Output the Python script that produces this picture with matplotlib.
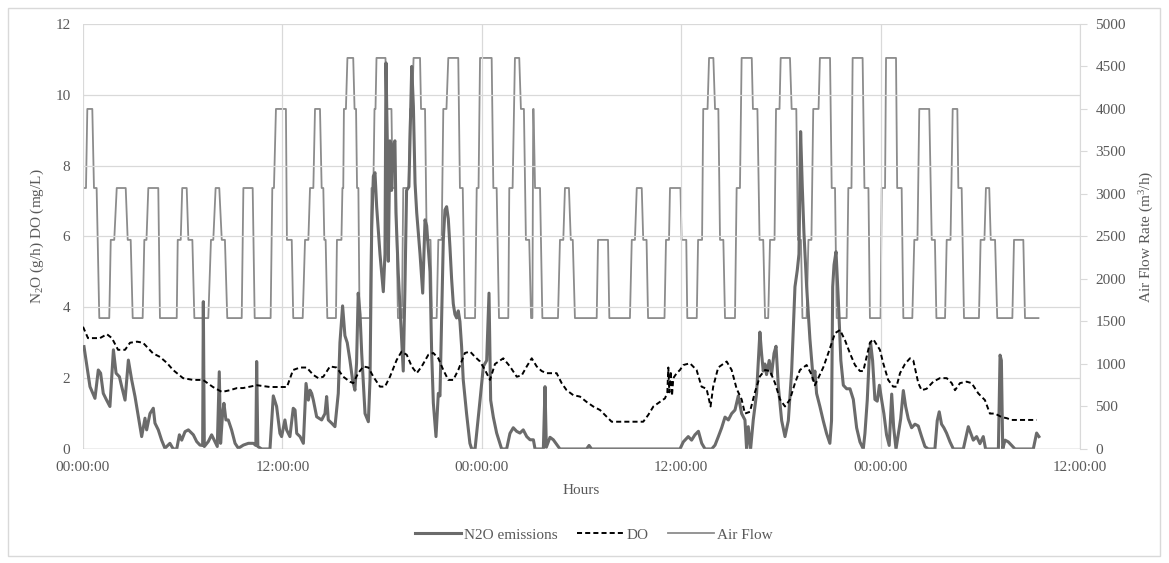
import matplotlib
matplotlib.use('Agg')
import matplotlib.pyplot as plt
from matplotlib.patches import Rectangle

plt.rcParams['font.family'] = 'Liberation Serif'
plt.rcParams['mathtext.fontset'] = 'custom'
plt.rcParams['mathtext.rm'] = 'Liberation Serif'
plt.rcParams['mathtext.it'] = 'Liberation Serif:italic'

# ---- data (hours since start) ----
# air flow plateaus: start hour, end hour, rate (m3/h)
af_start = [0.00, 0.26, 0.66, 0.98, 1.67, 2.03, 2.69, 2.99, 3.69, 3.93, 4.63, 5.70, 5.97, 6.34, 6.70,
            7.70, 7.98, 8.35, 8.68, 9.65, 10.33, 11.39, 11.61, 12.27, 12.65, 13.36, 13.66, 13.96, 14.36,
            14.52, 14.70, 15.28, 15.61, 15.70, 15.91, 16.34, 16.49, 16.64, 17.36, 17.54, 17.66, 18.29,
            18.63, 18.95, 19.27, 19.68, 19.89, 20.34, 20.68, 21.00, 21.38, 21.68, 21.98, 22.68, 22.98,
            23.69, 23.89, 24.69, 25.03, 25.65, 25.99, 26.35, 26.65, 26.96, 27.09, 27.20, 27.64, 28.70,
            29.00, 29.35, 29.60, 30.99, 31.67, 33.02, 33.32, 33.71, 34.00, 35.08, 35.32, 36.02, 36.36,
            37.01, 37.32, 37.67, 38.03, 38.33, 38.63, 39.33, 39.63, 40.31, 40.71, 41.04, 41.34, 41.70,
            41.98, 42.64, 43.02, 43.29, 43.65, 43.94, 44.34, 45.05, 45.35, 46.05, 46.31, 47.02, 47.35,
            48.06, 48.32, 48.99, 49.36, 50.02, 50.32, 51.07, 51.35, 51.97, 52.33, 52.67, 53.01, 54.01,
            54.33, 54.62, 55.01, 56.02, 56.68]
af_end = [0.18, 0.56, 0.82, 1.58, 1.88, 2.57, 2.87, 3.59, 3.82, 4.53, 5.64, 5.88, 6.24, 6.58, 7.54,
          7.84, 8.20, 8.54, 9.55, 10.21, 11.29, 11.49, 12.21, 12.56, 13.22, 13.56, 13.86, 14.26, 14.46,
          14.60, 15.22, 15.55, 15.66, 15.82, 16.26, 16.43, 16.57, 17.27, 17.47, 17.60, 18.20, 18.56,
          18.83, 19.19, 19.59, 19.80, 20.28, 20.58, 20.91, 21.28, 21.58, 21.87, 22.58, 22.85, 23.59,
          23.80, 24.59, 24.89, 25.59, 25.85, 26.25, 26.53, 26.85, 27.04, 27.11, 27.50, 28.58, 28.90,
          29.24, 29.47, 30.91, 31.59, 32.91, 33.21, 33.62, 33.91, 34.99, 35.26, 35.95, 36.30, 36.93,
          37.25, 37.58, 37.93, 38.23, 38.53, 39.23, 39.53, 40.24, 40.58, 40.93, 41.23, 41.61, 41.91,
          42.54, 42.92, 43.20, 43.54, 43.83, 44.26, 44.95, 45.25, 45.95, 46.24, 46.91, 47.26, 47.99,
          48.26, 48.92, 49.26, 49.90, 50.21, 50.92, 51.26, 51.87, 52.20, 52.61, 52.87, 53.91, 54.24,
          54.53, 54.88, 55.92, 56.58, 57.49]
af_level = [3070, 4000, 3070, 1540, 2460, 3070, 2460, 1540, 2460, 3070, 1540, 2460, 3070, 2460, 1540,
            2460, 3070, 2460, 1540, 3070, 1540, 3070, 4000, 2460, 1540, 2460, 3070, 4000, 3070,
            2460, 1540, 2460, 3070, 4000, 4600, 4000, 3070, 1540, 3070, 4000, 4600, 4000,
            3070, 1540, 3070, 4000, 4600, 4000, 2460, 1540, 2460, 4000, 4600, 3070, 1540,
            3070, 4600, 3070, 1540, 3070, 4600, 4000, 2460, 1540, 4000, 3070, 1540, 2460,
            3070, 2460, 1540, 2460, 1540, 2460, 3070, 2460, 1540, 2460, 3070, 2460, 1540,
            2460, 4000, 4600, 4000, 2460, 1540, 3070, 4600, 4000, 2460, 1540, 2460, 4000,
            4600, 4000, 2460, 1540, 2460, 4000, 4600, 3070, 1540, 3070, 4600, 3070, 1540,
            3070, 4600, 3070, 1540, 2460, 4000, 2460, 1540, 2460, 4000, 3070, 1540, 2460,
            3070, 2460, 1540, 2460, 1540]

n2o_t = [0.06, 0.18, 0.42, 0.72, 0.92, 1.06, 1.22, 1.42, 1.62, 1.83, 1.99, 2.19, 2.33, 2.53, 2.73, 2.93,
         3.13, 3.33, 3.53, 3.73, 3.83, 4.03, 4.23, 4.33, 4.53, 4.73, 4.93, 5.23, 5.43, 5.64, 5.80, 5.94,
         6.14, 6.34, 6.64, 6.84, 7.04, 7.20, 7.24, 7.30, 7.54, 7.74, 7.94, 8.08, 8.20, 8.28, 8.40, 8.48,
         8.60, 8.74, 8.94, 9.15, 9.35, 9.65, 9.95, 10.25, 10.40, 10.45, 10.52, 10.75, 11.25, 11.45, 11.65,
         11.85, 11.95, 12.15, 12.25, 12.45, 12.65, 12.76, 12.86, 13.06, 13.26, 13.42, 13.56, 13.66, 13.76,
         13.86, 14.06, 14.36, 14.56, 14.66, 14.76, 14.96, 15.16, 15.36, 15.46, 15.62, 15.76, 15.90, 16.06,
         16.22, 16.36, 16.46, 16.56, 16.67, 16.77, 16.97, 17.17, 17.27, 17.37, 17.47, 17.57, 17.67, 17.87,
         17.97, 18.07, 18.17, 18.23, 18.31, 18.37, 18.47, 18.57, 18.67, 18.77, 18.83, 18.97, 19.17, 19.27,
         19.37, 19.47, 19.61, 19.78, 19.88, 19.98, 20.08, 20.28, 20.44, 20.58, 20.68, 20.88, 20.98, 21.08,
         21.24, 21.38, 21.48, 21.58, 21.68, 21.78, 21.88, 21.98, 22.08, 22.18, 22.28, 22.38, 22.48, 22.58,
         22.68, 22.78, 22.88, 23.08, 23.28, 23.39, 23.59, 23.69,
         23.89, 24.09, 24.29, 24.43, 24.53, 24.69, 24.89, 25.19, 25.49, 25.69, 25.89, 26.09, 26.29, 26.49,
         26.70, 26.90, 27.10, 27.20, 27.70, 27.80, 27.88, 28.10, 28.30, 28.70, 30.30, 30.45, 30.60,
         35.92, 36.12, 36.42, 36.62, 36.82, 37.03, 37.23, 37.43, 37.83, 38.03, 38.23, 38.43, 38.63, 38.83,
         39.03, 39.23, 39.43, 39.63, 39.83, 39.93, 40.03, 40.17, 40.33, 40.53, 40.73, 40.83, 40.93, 41.03,
         41.13, 41.29, 41.43, 41.58, 41.70, 41.84, 42.04, 42.24, 42.44, 42.64, 42.84, 42.98, 43.08, 43.18,
         43.28, 43.38, 43.54, 43.74, 43.94, 44.04, 44.14, 44.34, 44.54, 44.74, 44.94, 45.04, 45.11, 45.19,
         45.31, 45.45, 45.60, 45.75, 45.95, 46.15, 46.35, 46.55, 46.75, 46.95, 47.05, 47.19, 47.31, 47.39,
         47.51, 47.65, 47.79, 47.92,
         48.05, 48.19, 48.35, 48.51, 48.66, 48.78, 48.92, 49.05, 49.20, 49.36, 49.50, 49.66, 49.86, 50.06,
         50.26, 50.46, 50.66, 50.86, 51.26, 51.40, 51.52, 51.66, 51.80, 51.96, 52.17, 52.37, 52.97, 53.27,
         53.41, 53.57, 53.77, 53.97, 54.17, 54.31, 55.08, 55.18, 55.26, 55.34, 55.48, 55.68, 55.88, 56.08,
         57.18, 57.38, 57.52]
n2o_v = [2.89, 2.51, 1.76, 1.43, 2.23, 2.14, 1.57, 1.38, 1.20, 2.80, 2.14, 2.04, 1.76, 1.38, 2.51, 1.95,
         1.48, 0.91, 0.35, 0.87, 0.54, 1.00, 1.15, 0.73, 0.54, 0.25, 0.02, 0.16, 0.00, 0.00, 0.40, 0.25,
         0.49, 0.54, 0.40, 0.21, 0.11, 0.10, 4.16, 0.07, 0.21, 0.40, 0.21, 0.07, 2.18, 0.16, 1.00, 1.29,
         0.82, 0.82, 0.54, 0.16, 0.02, 0.11, 0.16, 0.16, 0.10, 2.47, 0.07, 0.00, 0.00, 1.50, 1.20,
         0.44, 0.35, 0.82, 0.54, 0.35, 1.15, 1.10, 0.44, 0.35, 0.16, 1.85, 1.38, 1.66, 1.57,
         1.38, 0.91, 0.82, 1.00, 1.48, 0.82, 0.73, 0.63, 1.57, 3.00, 4.04, 3.20, 3.00, 2.51,
         1.95, 1.66, 2.42, 4.40, 3.80, 2.70, 1.00, 0.77, 1.95, 6.20, 7.70, 7.80, 6.84, 5.50,
         4.96, 4.44, 5.50, 10.90, 8.70, 5.30, 8.70, 7.30, 8.60, 8.70, 6.67, 4.96, 3.10, 2.20,
         4.50, 7.30, 7.40, 10.80, 9.67, 7.50, 6.67, 5.50, 4.40, 6.47, 6.30, 5.00, 2.70, 1.30,
         0.35, 1.57, 1.50, 3.65, 5.90, 6.75, 6.84, 6.50, 5.70, 4.80, 4.10, 3.80, 3.70, 3.90,
         3.60, 2.90, 1.95, 1.00, 0.16, 0.00, 0.00, 0.45,
         1.38, 2.33, 2.50, 4.40, 1.38, 0.90, 0.45, 0.00, 0.00, 0.44, 0.60, 0.50, 0.45, 0.54,
         0.35, 0.26, 0.26, 0.00, 0.00, 1.76, 0.05, 0.33, 0.26, 0.00, 0.00, 0.10, 0.00,
         0.00, 0.20, 0.35, 0.25, 0.40, 0.50, 0.16, 0.00, 0.00, 0.11, 0.35, 0.60, 0.90, 0.82,
         1.00, 1.10, 1.50, 1.00, 0.82, 0.00, 0.63, 0.00, 0.82, 1.57, 3.30, 2.70, 2.20, 2.40,
         2.10, 2.50, 2.10, 2.70, 2.90, 1.76, 0.80, 0.35, 0.80, 2.20, 4.58, 5.05, 5.50, 8.96,
         7.40, 6.10, 4.60, 3.10, 1.95, 2.20, 1.57, 1.20, 0.80, 0.44, 0.16, 0.80, 4.58, 5.20,
         5.57, 4.20, 2.50, 1.80, 1.70, 1.70, 1.40, 0.60, 0.20, 0.00, 0.44, 1.38, 2.60, 3.00,
         2.50, 1.40, 1.35, 1.80,
         1.40, 1.00, 0.40, 0.10, 1.55, 0.60, 0.00, 0.40, 0.85, 1.65, 1.20, 0.85, 0.60, 0.70,
         0.65, 0.35, 0.07, 0.00, 0.00, 0.80, 1.05, 0.70, 0.60, 0.45, 0.20, 0.00, 0.00, 0.63,
         0.45, 0.25, 0.35, 0.15, 0.35, 0.00, 0.00, 2.65, 2.50, 0.00, 0.25, 0.20, 0.10, 0.00,
         0.00, 0.45, 0.35]

do_t = [0.00, 0.30, 1.02, 1.44, 1.74, 2.11, 2.53, 2.83, 3.25, 3.61, 4.21, 4.63, 5.05, 5.42, 6.02, 6.62,
        7.22, 7.82, 8.36, 8.84, 9.27, 9.63, 10.47, 11.25, 12.27, 12.64, 13.06, 13.46, 13.86, 14.16, 14.46,
        14.86, 15.26, 15.66, 16.06, 16.26, 16.56, 16.87, 17.17, 17.47, 17.87, 18.17, 18.47, 18.87, 19.17,
        19.48, 19.78, 20.08, 20.38, 20.78, 21.08, 21.38, 21.68, 21.98, 22.28, 22.58, 22.98, 23.29, 23.59,
        23.89, 24.19, 24.49, 24.79, 25.29, 25.69, 26.10, 26.40, 26.70, 27.00, 27.30, 27.60, 27.90, 28.50,
        28.80, 29.10, 29.50, 29.90, 30.30, 30.70, 31.11, 31.41, 31.81, 33.71, 34.01, 34.32, 34.72, 35.02,
        35.16, 35.22, 35.28, 35.36, 35.44, 35.52, 35.72, 35.92, 36.12, 36.52, 36.92, 37.22, 37.52, 37.76,
        37.92, 38.22, 38.73, 39.03, 39.33, 39.63, 39.83, 40.13, 40.43, 40.73, 41.04, 41.34, 41.64, 41.94,
        42.24, 42.54, 42.84, 43.14, 43.54, 43.84, 44.04, 44.24, 44.54, 44.84, 45.25, 45.55, 45.85, 46.15,
        46.45, 46.75, 46.95, 47.35, 47.55, 47.75, 47.95, 48.15, 48.45, 48.75, 48.95, 49.16, 49.46, 49.76,
        49.96, 50.26, 50.46, 50.76, 51.16, 51.56, 51.97, 52.27, 52.47, 52.77, 53.17, 53.47, 53.87, 54.27,
        54.57, 54.87, 55.28, 55.58, 55.88, 57.38]
do_v = [3.45, 3.13, 3.13, 3.24, 3.13, 2.80, 2.80, 3.00, 3.03, 3.00, 2.70, 2.60, 2.43, 2.23, 2.00, 1.95,
        1.95, 1.75, 1.61, 1.66, 1.72, 1.72, 1.80, 1.75, 1.75, 2.23, 2.30, 2.30, 2.09, 2.00, 2.04,
        2.33, 2.30, 2.04, 1.90, 1.86, 2.14, 2.33, 2.30, 2.04, 1.76, 1.76, 2.04, 2.51, 2.75,
        2.66, 2.33, 2.14, 2.33, 2.66, 2.71, 2.56, 2.23, 1.95, 1.95, 2.23, 2.71, 2.75, 2.60,
        2.47, 2.23, 1.95, 2.40, 2.56, 2.33, 2.04, 2.08, 2.33, 2.56, 2.33, 2.20, 2.14, 2.14,
        1.86, 1.66, 1.52, 1.48, 1.33, 1.20, 1.10, 0.96, 0.77, 0.77, 0.96, 1.20, 1.33, 1.43,
        1.60, 2.30, 1.60, 2.20, 1.50, 2.00, 2.14, 2.23, 2.37, 2.42, 2.23, 1.76, 1.70, 1.20,
        1.76, 2.30, 2.47, 2.23, 1.70, 1.40, 1.00, 1.05, 1.60, 2.05, 2.23, 2.20, 1.86, 1.40,
        1.20, 1.40, 1.86, 2.23, 2.37, 2.10, 1.80, 2.00, 2.30, 2.70, 3.27, 3.36, 3.07, 2.70,
        2.37, 2.20, 2.20, 3.00, 3.10, 2.95, 2.80, 2.42, 1.95, 1.76, 1.76, 2.14, 2.40, 2.56,
        2.50, 1.86, 1.66, 1.70, 1.90, 2.00, 2.00, 1.86, 1.66, 1.86, 1.90, 1.86, 1.57, 1.38,
        1.00, 1.00, 0.90, 0.87, 0.82, 0.82]

x_ticks = [0, 12, 24, 36, 48, 60]
x_ticklabels = ['00:00:00', '12:00:00', '00:00:00', '12:00:00', '00:00:00', '12:00:00']

# build air flow polyline from plateaus
af_t = []
af_v = []
for s, e, lv in zip(af_start, af_end, af_level):
    af_t += [s, e]
    af_v += [lv, lv]

text_col = '#595959'
grid_col = '#d9d9d9'

fig = plt.figure(figsize=(11.69, 5.63), dpi=100)
ax = fig.add_axes([0.071, 0.2025, 0.853, 0.755])
ax2 = ax.twinx()

# air flow on secondary axis, drawn behind
ax2.plot(af_t, af_v, color='#8c8c8c', lw=1.3, label='Air Flow')
ax.set_zorder(ax2.get_zorder() + 1)
ax.patch.set_visible(False)

l1, = ax.plot(n2o_t, n2o_v, color='#6b6b6b', lw=2.2, label='N2O emissions', solid_joinstyle='round')
l2, = ax.plot(do_t, do_v, color='black', lw=1.4, ls=(0, (2.6, 1.6)), label='DO')
l3, = ax.plot([], [], color='#8c8c8c', lw=1.3, label='Air Flow')

ax.set_xlim(0, 60)
ax.set_ylim(0, 12)
ax2.set_ylim(0, 5000)
ax.set_xticks(x_ticks)
ax.set_xticklabels(x_ticklabels)
ax.set_yticks(range(0, 13, 2))
ax2.set_yticks(range(0, 5001, 500))

ax.grid(True, color=grid_col, lw=0.9)
for a in (ax, ax2):
    for sp in a.spines.values():
        sp.set_visible(False)
ax2.spines['right'].set_visible(True)
ax2.spines['right'].set_color(grid_col)
ax.axhline(0, color='#bfbfbf', lw=1.0)

ax.tick_params(axis='both', length=0, labelsize=11, labelcolor=text_col)
ax.tick_params(axis='y', pad=9)
ax.tick_params(axis='x', pad=9)
ax2.tick_params(axis='y', length=5, color=grid_col, labelsize=11, labelcolor=text_col, pad=6)

ax.set_xlabel('Hours', fontsize=11, color=text_col)
ax.xaxis.set_label_coords(0.5, -0.083)
ax.set_ylabel(r'N$_2$O (g/h) DO (mg/L)', fontsize=11, color=text_col)
ax.yaxis.set_label_coords(-0.037, 0.5)
ax2.set_ylabel(r'Air Flow Rate (m$^3$/h)', fontsize=11, color=text_col)
ax2.yaxis.set_label_coords(1.058, 0.5)

fig.legend(handles=[l1, l2, l3], loc='center', bbox_to_anchor=(0.508, 0.05), ncol=3,
           frameon=False, fontsize=11, handlelength=3.0, handletextpad=0.2,
           columnspacing=1.3, labelcolor=text_col)

fig.patches.append(Rectangle((8 / 1169, 1 - 556 / 563), 1152 / 1169, 548 / 563,
                             transform=fig.transFigure, fill=False, edgecolor=grid_col, lw=1))

fig.savefig('out.png', dpi=100)
